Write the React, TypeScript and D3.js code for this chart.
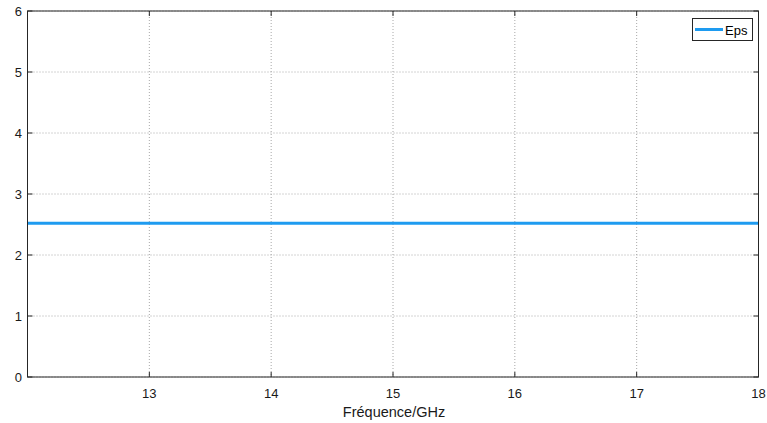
import React from "react";
import * as d3 from "d3";

const freqGHz = [12, 12.5, 13, 13.5, 14, 14.5, 15, 15.5, 16, 16.5, 17, 17.5, 18];
const epsValues = [2.52, 2.52, 2.52, 2.52, 2.52, 2.52, 2.52, 2.52, 2.52, 2.52, 2.52, 2.52, 2.52];
const xTicks = [13, 14, 15, 16, 17, 18];
const yTicks = [0, 1, 2, 3, 4, 5, 6];
const seriesName = "Eps";
const xLabel = "Fréquence/GHz";

export default function App() {
  const W = 767, H = 423;
  const L = 27.5, R = 758.5, T = 11, B = 377;
  const x = d3.scaleLinear().domain([12, 18]).range([L, R]);
  const y = d3.scaleLinear().domain([0, 6]).range([B, T]);
  const line = d3.line<number>().x((_, i) => x(freqGHz[i])).y((d) => y(d));
  const font = "'Liberation Sans', Arial, sans-serif";
  const axisColor = "#262626";
  return (
    <svg width={W} height={H} style={{ position: "absolute", left: 0, top: 0, background: "#fff" }}>
      <rect x={0} y={0} width={W} height={H} fill="#fff" />
      {xTicks.map((t) => (
        <line key={"gx" + t} x1={x(t)} x2={x(t)} y1={T} y2={B} stroke="#a8a8a8" strokeWidth={1} strokeDasharray="1,2" />
      ))}
      {yTicks.map((t) => (
        <line key={"gy" + t} x1={L} x2={R} y1={y(t)} y2={y(t)} stroke="#a8a8a8" strokeWidth={1} strokeDasharray="1,2" />
      ))}
      <path d={line(epsValues) || ""} fill="none" stroke="#1e9bf0" strokeWidth={3} />
      <rect x={L} y={T} width={R - L} height={B - T} fill="none" stroke={axisColor} strokeWidth={1} />
      {xTicks.map((t) => (
        <g key={"tx" + t}>
          <line x1={x(t)} x2={x(t)} y1={B} y2={B - 5} stroke={axisColor} />
          <line x1={x(t)} x2={x(t)} y1={T} y2={T + 5} stroke={axisColor} />
          <text x={x(t)} y={B + 20.5} textAnchor="middle" fontFamily={font} fontSize={13} fill="#1a1a1a">{t}</text>
        </g>
      ))}
      {yTicks.map((t) => (
        <g key={"ty" + t}>
          <line x1={L} x2={L + 5} y1={y(t)} y2={y(t)} stroke={axisColor} />
          <line x1={R} x2={R - 5} y1={y(t)} y2={y(t)} stroke={axisColor} />
          <text x={L - 5.5} y={y(t) + 5} textAnchor="end" fontFamily={font} fontSize={13} fill="#1a1a1a">{t}</text>
        </g>
      ))}
      <text x={394} y={416.5} textAnchor="middle" fontFamily={font} fontSize={14.5} fill="#1a1a1a">{xLabel}</text>
      <g>
        <rect x={692.5} y={18.5} width={60} height={22} fill="#fff" stroke={axisColor} strokeWidth={1} />
        <line x1={695} x2={723} y1={29.5} y2={29.5} stroke="#1e9bf0" strokeWidth={3} />
        <text x={725} y={34.5} fontFamily={font} fontSize={13} fill="#000">{seriesName}</text>
      </g>
    </svg>
  );
}
